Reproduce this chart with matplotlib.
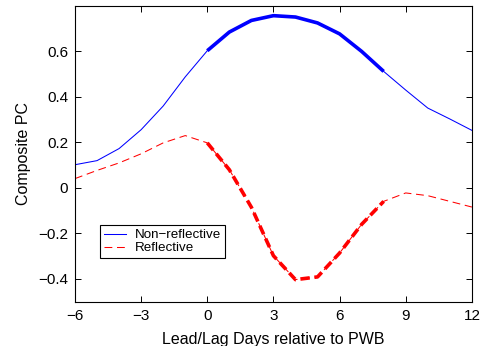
import numpy as np
import matplotlib.pyplot as plt

#--------data begin--------
days = np.arange(-6, 13)
non_reflective = [0.102, 0.120, 0.173, 0.256, 0.360, 0.488, 0.603, 0.685, 0.736, 0.757,
                  0.751, 0.725, 0.677, 0.600, 0.512, 0.430, 0.351, 0.303, 0.253]
reflective = [0.041, 0.077, 0.110, 0.150, 0.198, 0.230, 0.198, 0.080, -0.085, -0.298,
              -0.403, -0.391, -0.286, -0.160, -0.059, -0.022, -0.034, -0.059, -0.084]
thick_from, thick_to = 0, 8
xticks = [-6, -3, 0, 3, 6, 9, 12]
yticks = [-0.4, -0.2, 0, 0.2, 0.4, 0.6]
#--------data end--------

plt.rcParams['font.family'] = ['Liberation Sans', 'DejaVu Sans']

fig = plt.figure(figsize=(4.82, 3.46), dpi=100)
ax = fig.add_axes([0.1556, 0.128, 0.979 - 0.1556, 0.983 - 0.128])

nr = np.array(non_reflective)
rf = np.array(reflective)
sel = (days >= thick_from) & (days <= thick_to)

ax.plot(days, nr, color="blue", lw=0.75, label="Non\u2212reflective")
ax.plot(days, rf, color="red", lw=0.75, dashes=(7.5, 4.5), label="Reflective")
ax.plot(days[sel], nr[sel], color="blue", lw=2.6, solid_capstyle="butt")
ax.plot(days[sel], rf[sel], color="red", lw=2.6, dashes=(2.6, 1.3))

ax.set_xlim(-6, 12)
ax.set_ylim(-0.5, 0.8)
ax.set_xticks(xticks)
ax.set_xticklabels([str(t).replace("-", "\u2212") for t in xticks])
ax.set_yticks(yticks)
ax.set_yticklabels([("%g" % t).replace("-", "\u2212") for t in yticks])
ax.tick_params(direction="in", top=True, right=True, labelsize=11, length=4, width=0.7, pad=5)
for s in ax.spines.values():
  s.set_linewidth(0.8)

ax.set_xlabel("Lead/Lag Days relative to PWB", fontsize=11.5, labelpad=7)
ax.set_ylabel("Composite PC", fontsize=11.5, labelpad=5)

leg = ax.legend(loc="lower left", bbox_to_anchor=(0.063, 0.147), fontsize=9.6,
                frameon=True, fancybox=False, edgecolor="black", framealpha=1,
                handlelength=1.7, handletextpad=0.62, borderpad=0.28, labelspacing=0.05,
                borderaxespad=0)
leg.get_frame().set_linewidth(0.8)

fig.savefig("out.png", dpi=100)
